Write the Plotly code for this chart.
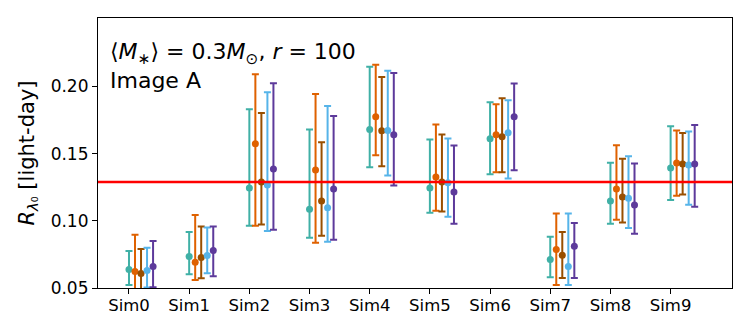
import plotly.graph_objects as go

sims = ["Sim0", "Sim1", "Sim2", "Sim3", "Sim4", "Sim5", "Sim6", "Sim7", "Sim8", "Sim9"]
ref_value = 0.129

# measured radius per run, with upper / lower bounds of the error bars
teal = [0.0638, 0.0735, 0.1244, 0.1087, 0.1680, 0.1244, 0.1611, 0.0712, 0.1147, 0.1394]
teal_hi = [0.0775, 0.0917, 0.1830, 0.1680, 0.2147, 0.1605, 0.1882, 0.0882, 0.1433, 0.1705]
teal_lo = [0.0522, 0.0602, 0.0964, 0.0874, 0.1398, 0.1061, 0.1346, 0.0580, 0.0979, 0.1156]

orange = [0.0623, 0.0692, 0.1573, 0.1379, 0.1775, 0.1326, 0.1641, 0.0787, 0.1237, 0.1431]
orange_hi = [0.0897, 0.1044, 0.2092, 0.1945, 0.2162, 0.1718, 0.1867, 0.1054, 0.1563, 0.1673]
orange_lo = [0.0420, 0.0560, 0.0964, 0.0837, 0.1488, 0.1076, 0.1361, 0.0523, 0.1009, 0.1186]

brown = [0.0608, 0.0727, 0.1289, 0.1147, 0.1671, 0.1289, 0.1626, 0.0743, 0.1177, 0.1424]
brown_hi = [0.0790, 0.0957, 0.1802, 0.1585, 0.2070, 0.1643, 0.1912, 0.0917, 0.1463, 0.1653]
brown_lo = [0.0430, 0.0573, 0.0972, 0.0889, 0.1406, 0.1069, 0.1361, 0.0575, 0.0987, 0.1196]

blue = [0.0630, 0.0742, 0.1267, 0.1097, 0.1673, 0.1284, 0.1656, 0.0660, 0.1169, 0.1416]
blue_hi = [0.0800, 0.0950, 0.1957, 0.1855, 0.2117, 0.1613, 0.1897, 0.1054, 0.1480, 0.1665]
blue_lo = [0.0503, 0.0610, 0.0924, 0.0844, 0.1338, 0.1031, 0.1316, 0.0523, 0.0947, 0.1119]

purple = [0.0660, 0.0780, 0.1386, 0.1237, 0.1641, 0.1214, 0.1775, 0.0810, 0.1117, 0.1424]
purple_hi = [0.0850, 0.0957, 0.2025, 0.1780, 0.2100, 0.1561, 0.2022, 0.0984, 0.1426, 0.1713]
purple_lo = [0.0505, 0.0588, 0.0934, 0.0859, 0.1263, 0.0979, 0.1376, 0.0575, 0.0904, 0.1104]

series = [
    (teal, teal_hi, teal_lo, "#40b0a6"),
    (orange, orange_hi, orange_lo, "#df6100"),
    (brown, brown_hi, brown_lo, "#994f00"),
    (blue, blue_hi, blue_lo, "#56b4e9"),
    (purple, purple_hi, purple_lo, "#5d3a9b"),
]

fig = go.Figure()

for k, (vals, hi, lo, color) in enumerate(series):
    xs = [i + 0.1 * k for i in range(len(sims))]
    fig.add_trace(go.Scatter(
        x=xs,
        y=vals,
        mode="markers",
        marker=dict(color=color, size=7),
        error_y=dict(
            type="data",
            symmetric=False,
            array=[h - v for h, v in zip(hi, vals)],
            arrayminus=[v - l for v, l in zip(vals, lo)],
            color=color,
            thickness=2,
            width=3.5,
        ),
        showlegend=False,
        cliponaxis=True,
    ))

fig.add_hline(y=ref_value, line=dict(color="#ff0000", width=2.5))

fig.add_annotation(
    x=0.016, y=0.93, xref="paper", yref="paper",
    xanchor="left", yanchor="top", align="left",
    text="⟨<i>M</i><sub>∗</sub>⟩ = 0.3<i>M</i><sub>⊙</sub>, <i>r</i> = 100<br>Image A",
    showarrow=False,
    font=dict(size=22, color="black"),
)

# page body adds an 8px offset, so the figure is sized to fit the window
fig.update_layout(
    width=742,
    height=322,
    margin=dict(l=90, r=18, t=10, b=42),
    plot_bgcolor="white",
    paper_bgcolor="white",
    font=dict(family="DejaVu Sans", color="black", size=16),
)

fig.update_xaxes(
    range=[-0.515, 10.02],
    tickmode="array",
    tickvals=list(range(len(sims))),
    ticktext=sims,
    showgrid=False,
    zeroline=False,
    automargin=False,
    showline=True, linecolor="black", linewidth=1.2, mirror=True,
    ticks="outside", ticklen=5, tickcolor="black",
    tickfont=dict(size=16.5),
    ticklabelstandoff=-3,
)

fig.update_yaxes(
    range=[0.05, 0.251],
    tickvals=[0.05, 0.10, 0.15, 0.20],
    ticktext=["0.05", "0.10", "0.15", "0.20"],
    showgrid=False,
    zeroline=False,
    automargin=False,
    showline=True, linecolor="black", linewidth=1.2, mirror=True,
    ticks="outside", ticklen=5, tickcolor="black",
    tickfont=dict(size=17),
    title=dict(text="<i>R</i><sub><i>λ</i>₀</sub> [light-day]", font=dict(size=21), standoff=10),
)

fig.write_html("out.html")
